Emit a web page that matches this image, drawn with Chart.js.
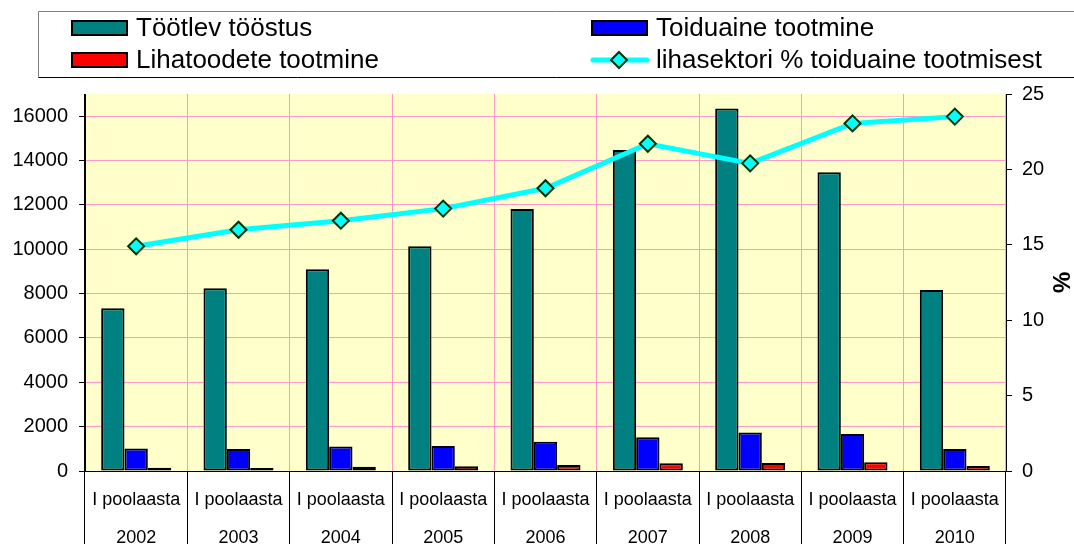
<!DOCTYPE html>
<html>
<head>
<meta charset="utf-8">
<script src="https://cdn.jsdelivr.net/npm/chart.js@4.4.1/dist/chart.umd.min.js"></script>
<style>
  html, body { margin: 0; padding: 0; background: #fff; }
  #wrap { width: 1074px; height: 544px; }
</style>
</head>
<body>
<div id="wrap"><canvas id="chart" width="1074" height="544"></canvas></div>
<script>
// data
let halfYear = 'I poolaasta';
let years = ['2002', '2003', '2004', '2005', '2006', '2007', '2008', '2009', '2010'];
let tootlevToostus = [7340, 8240, 9100, 10140, 11810, 14470, 16350, 13470, 8160];
let toiduaineTootmine = [1010, 990, 1100, 1130, 1320, 1520, 1740, 1670, 990];
let lihatoodeteTootmine = [150, 135, 195, 210, 270, 345, 360, 390, 225];
let lihasektoriProtsent = [14.9, 16.0, 16.6, 17.4, 18.75, 21.7, 20.4, 23.05, 23.5];
// left axis goes up to 17000 but is labelled only to 16000
let leftTicks = [0, 2000, 4000, 6000, 8000, 10000, 12000, 14000, 16000];

let fontFamily = "'Liberation Sans', Arial, sans-serif";
let pink = '#FF99CC';

let xLabels = [];
for (let i = 0; i < years.length; i++) {
    xLabels.push([halfYear, years[i]]);
}

// yellow plot background
const plotBackground = {
    id: 'plotBackground',
    beforeDraw(chart) {
        const a = chart.chartArea;
        const ctx = chart.ctx;
        ctx.save();
        ctx.fillStyle = '#FFFFCC';
        ctx.fillRect(a.left, a.top, a.right - a.left, a.bottom - a.top);
        ctx.restore();
    }
};

// two column legend in a box, like the excel one
const boxLegend = {
    id: 'boxLegend',
    afterDraw(chart) {
        const ctx = chart.ctx;
        const sets = chart.data.datasets;
        const colX = [71, 591];
        const rowY = [28, 60];
        ctx.save();
        ctx.lineWidth = 1;
        ctx.strokeStyle = '#808080';
        ctx.beginPath();
        ctx.moveTo(38.5, 77.5); ctx.lineTo(38.5, 11.5); ctx.lineTo(1074, 11.5);
        ctx.stroke();
        ctx.strokeStyle = '#000';
        ctx.beginPath();
        ctx.moveTo(38.5, 77.5); ctx.lineTo(1074, 77.5);
        ctx.stroke();

        ctx.font = '26px ' + fontFamily;
        ctx.textBaseline = 'middle';
        ctx.fillStyle = '#000';
        for (let i = 0; i < sets.length; i++) {
            const ds = sets[i];
            const x = colX[i % 2];
            const y = rowY[Math.floor(i / 2)];
            if (ds.type === 'line') {
                ctx.strokeStyle = ds.borderColor;
                ctx.lineWidth = 5;
                ctx.lineCap = 'round';
                ctx.beginPath();
                ctx.moveTo(x + 2, y); ctx.lineTo(x + 56, y);
                ctx.stroke();
                ctx.fillStyle = ds.pointBackgroundColor;
                ctx.strokeStyle = ds.pointBorderColor;
                ctx.lineWidth = 2;
                ctx.beginPath();
                ctx.moveTo(x + 28, y - 8); ctx.lineTo(x + 36, y);
                ctx.lineTo(x + 28, y + 8); ctx.lineTo(x + 20, y);
                ctx.closePath();
                ctx.fill(); ctx.stroke();
            } else {
                ctx.fillStyle = ds.backgroundColor;
                ctx.fillRect(x, y - 8, 57, 16);
                ctx.strokeStyle = '#000';
                ctx.lineWidth = 2;
                ctx.strokeRect(x + 1, y - 7, 55, 14);
            }
            ctx.fillStyle = '#000';
            ctx.fillText(ds.label, x + 65, y + 1);
        }
        ctx.restore();
    }
};

var chartData = {
    labels: xLabels,
    datasets: [
        {
            type: 'bar',
            label: 'Töötlev tööstus',
            backgroundColor: '#008080',
            data: tootlevToostus,
            yAxisID: 'y',
            order: 2
        },
        {
            type: 'bar',
            label: 'Toiduaine tootmine',
            backgroundColor: '#0000FF',
            data: toiduaineTootmine,
            yAxisID: 'y',
            order: 2
        },
        {
            type: 'bar',
            label: 'Lihatoodete tootmine',
            backgroundColor: '#FF0000',
            data: lihatoodeteTootmine,
            yAxisID: 'y',
            order: 2
        },
        {
            type: 'line',
            label: 'lihasektori % toiduaine tootmisest',
            borderColor: '#00FFFF',
            borderWidth: 5,
            pointStyle: 'rectRot',
            pointRadius: 8,
            pointBackgroundColor: '#00FFFF',
            pointBorderColor: '#003300',
            pointBorderWidth: 2,
            tension: 0,
            data: lihasektoriProtsent,
            yAxisID: 'y1',
            order: 1
        }
    ]
};

new Chart(document.getElementById('chart').getContext('2d'), {
    data: chartData,
    plugins: [plotBackground, boxLegend],
    options: {
        responsive: false,
        animation: false,
        devicePixelRatio: 1,
        layout: { padding: { top: 94, left: 0, right: 0, bottom: 0 } },
        plugins: {
            legend: { display: false },
            tooltip: { enabled: false }
        },
        datasets: {
            bar: {
                categoryPercentage: 0.684,
                barPercentage: 1.0,
                borderColor: '#000',
                borderWidth: 2,
                borderSkipped: false
            }
        },
        scales: {
            x: {
                offset: true,
                grid: {
                    offset: true,
                    color: function (ctx) { return ctx.index === 0 ? '#000' : pink; },
                    tickColor: '#000',
                    tickLength: 73,
                    lineWidth: 1
                },
                border: { color: '#000', width: 1 },
                ticks: {
                    color: '#000',
                    font: { size: 18, family: fontFamily, lineHeight: 2.13 },
                    padding: -63,
                    maxRotation: 0,
                    autoSkip: false
                },
                afterFit: function (s) { s.height = 73; }
            },
            y: {
                position: 'left',
                min: 0,
                max: 17000,
                grid: { color: pink, tickColor: '#000', tickLength: 6 },
                border: { color: '#000', width: 1 },
                ticks: {
                    autoSkip: false,
                    color: '#000',
                    padding: 11,
                    font: { size: 20, family: fontFamily },
                    callback: function (v) { return String(v); }
                },
                afterBuildTicks: function (s) {
                    s.ticks = leftTicks.map(function (v) { return { value: v }; });
                },
                afterFit: function (s) { s.width = 85; }
            },
            y1: {
                position: 'right',
                min: 0,
                max: 25,
                grid: { drawOnChartArea: false, tickColor: '#000', tickLength: 6 },
                border: { color: '#000', width: 1 },
                ticks: {
                    stepSize: 5,
                    color: '#000',
                    padding: 10,
                    font: { size: 20, family: fontFamily }
                },
                title: {
                    display: true,
                    text: '%',
                    color: '#000',
                    padding: 0,
                    font: { size: 24, weight: 'bold', family: fontFamily }
                },
                afterFit: function (s) { s.width = 68; }
            }
        }
    }
});
</script>
</body>
</html>
